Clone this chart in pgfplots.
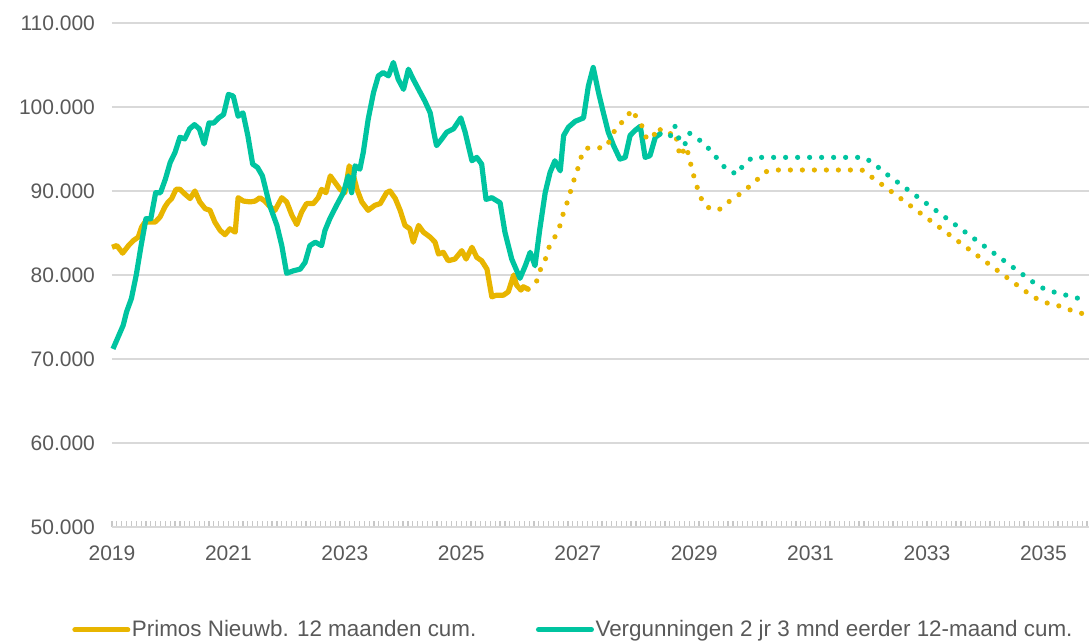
\documentclass[border=0pt]{standalone}
\usepackage{fontspec}
\setmainfont{Liberation Sans}
\usepackage{pgfplots}
\pgfplotsset{compat=1.18}

\definecolor{primos}{RGB}{232,181,0}
\definecolor{vergun}{RGB}{0,196,160}
\definecolor{txt}{RGB}{89,89,89}
\definecolor{grd}{RGB}{217,217,217}
\definecolor{tck}{RGB}{200,200,200}

\begin{document}
\begin{tikzpicture}
\begin{axis}[
  at={(0,0)}, anchor=south west,
  width=488.5pt, height=252pt, scale only axis,
  xmin=0, xmax=201.4,
  ymin=50, ymax=110,
  xtick={0,24,...,192},
  xticklabels={2019,2021,2023,2025,2027,2029,2031,2033,2035},
  minor xtick={0,1,...,201},
  ytick={50,60,...,110},
  yticklabels={50.000,60.000,70.000,80.000,90.000,100.000,110.000},
  ymajorgrids,
  grid style={draw=grd, line width=1pt},
  axis x line*=bottom, axis y line*=left,
  x axis line style={draw=grd, line width=1pt},
  y axis line style={draw=none},
  ytick style={draw=none},
  xtick style={draw=tck, line width=0.6pt},
  minor x tick style={draw=tck, line width=0.6pt},
  tick align=inside,
  major tick length=3pt, minor tick length=3pt,
  ticklabel style={font=\fontsize{10.5}{12}\selectfont, text=txt},
  yticklabel style={xshift=-5pt},
  xticklabel style={yshift=-6pt},
  clip=false,
  legend columns=2,
  legend style={draw=none, fill=none, inner sep=0pt,
    at={(axis description cs:-0.041,-0.204)}, anchor=west,
    font=\fontsize{11.2}{13}\selectfont, text=txt,
    nodes={inner sep=0.8pt},
    /tikz/every even column/.append style={column sep=29pt}},
  legend image code/.code={\draw[#1, line width=2.5pt, line cap=round] (0pt,0pt) -- (26.5pt,0pt);},
]
% Primos, gerealiseerd
\addplot[primos, line width=2.6pt, line join=round] coordinates {
(0,83.3)(1,83.5)(2.2,82.6)(3.4,83.5)(4.4,84.1)(5.4,84.5)(6.1,85.7)(6.8,86.3)(8.9,86.3)(9.9,86.9)
(10.9,88.1)(11.6,88.7)(12.3,89.1)(13.2,90.2)(14,90.2)(15.1,89.6)(16.1,89.1)(17.1,90.0)(18.1,88.7)
(19.2,87.9)(20.2,87.7)(21.2,86.3)(22.3,85.3)(23.3,84.8)(24.3,85.5)(25.4,85.1)(26,89.2)(27.1,88.8)
(28.5,88.7)(29.5,88.8)(30.5,89.2)(31.5,88.8)(32.6,88.1)(33.6,87.7)(35,89.2)(36,88.7)(37.1,87.1)
(38.1,86.0)(39.1,87.5)(40.1,88.5)(41.5,88.5)(42.5,89.2)(43.2,90.2)(44.1,89.8)(45,91.8)(46,91.0)
(47,90.2)(48,89.8)(48.9,93.0)(49.8,91.8)(50.5,90.2)(51.5,88.7)(52.8,87.7)(54.2,88.3)(55.3,88.5)
(56.6,89.8)(57.3,90.0)(58.4,89.1)(59.4,87.7)(60.4,85.9)(61.4,85.5)(62.1,83.9)(63.2,85.9)(64.2,85.1)
(65.6,84.5)(66.6,83.9)(67.3,82.5)(68.3,82.7)(69.3,81.7)(70.7,81.9)(72.1,82.9)(73,81.9)(74.2,83.3)
(75.2,82.1)(76.2,81.7)(77.3,80.7)(78.3,77.4)(79.3,77.6)(80.7,77.6)(81.7,78.0)(82.8,80.0)(83.4,78.8)
(84.3,78.2)(84.8,78.6)(85.8,78.3)
};
\addlegendentry{Primos Nieuwb. 12 maanden cum.}
% Vergunningen, gerealiseerd
\addplot[vergun, line width=2.6pt, line join=round] coordinates {
(0.2,71.2)(2.3,74.0)(3,75.6)(4,77.2)(5,80.0)(6,83.5)(7,86.7)(8,86.7)(9,89.8)(10,89.8)(11,91.4)
(12,93.4)(13,94.6)(14,96.4)(15,96.2)(16,97.4)(17,97.9)(18,97.4)(19,95.6)(20,98.1)(21,98.1)(22,98.7)
(23,99.1)(24,101.5)(25,101.3)(26,98.9)(27,99.3)(28,96.6)(29,93.2)(30,92.8)(31,91.8)(32.5,88.3)
(34,85.9)(35,83.5)(36,80.2)(37.4,80.5)(38.8,80.7)(39.8,81.5)(40.8,83.5)(41.9,83.9)(43.2,83.5)
(43.9,85.3)(44.9,86.7)(46.3,88.3)(47.7,89.8)(48.7,91.8)(49.4,89.8)(50.1,93.0)(51.1,92.6)(51.8,94.6)
(52.8,98.5)(53.9,101.7)(54.9,103.7)(55.9,104.1)(57,103.7)(58,105.3)(59,103.3)(60.1,102.1)(61.1,104.5)
(62.1,103.3)(63.2,102.1)(64.5,100.7)(65.6,99.3)(66.2,97.4)(66.9,95.4)(68,96.2)(69,97.0)(70.4,97.4)
(71.9,98.7)(72.8,97.0)(74.2,93.6)(75.2,94.0)(76.2,93.2)(77.1,89.0)(78.3,89.2)(80,88.6)(81,85.1)
(82.4,81.9)(84.1,79.6)(85.2,81.1)(86.2,82.7)(87.2,81.1)(88.2,85.5)(89.3,89.8)(90.3,92.2)(91.3,93.6)
(92.4,92.4)(93.1,96.6)(94.1,97.6)(95.5,98.3)(97.2,98.7)(98.2,102.5)(99.2,104.7)(100.3,101.7)
(101.3,99.3)(102.3,97.0)(103.4,95.4)(104.7,93.8)(105.8,94.0)(106.8,96.6)(107.8,97.2)(108.9,97.7)
(109.9,94.0)(110.9,94.2)(112,96.4)(113,96.8)
};
\addlegendentry{Vergunningen 2 jr 3 mnd eerder 12-maand cum.}
% Primos, prognose
\addplot[primos, forget plot, line width=2.6pt, line cap=round, dash pattern=on 0pt off 6pt] coordinates {
(85.8,78.3)(87.5,79.2)(88.2,80.5)(89.3,81.8)(90,83.2)(91.1,84.3)(92.2,85.6)(92.9,87.1)(93.7,88.4)
(94.4,89.7)(95.1,91.1)(95.9,92.4)(96.6,93.9)(97.7,95.1)(99.6,95.1)(101.8,95.2)(103,96.4)(104,97.7)
(105.9,98.5)(107.1,99.7)(108.2,98.7)(109.5,97.5)(110.2,96.2)(111.6,96.4)(112.3,97.6)(114.4,96.7)
(116.1,97.0)(116.6,95.5)(117.1,94.1)(117.8,94.8)(118.4,95.3)(119,93.9)(119.6,92.5)(120.2,91.2)
(121,89.8)(121.9,88.5)(123.5,87.8)(125.2,87.8)(127.1,88.7)(129.1,89.5)(131.1,90.4)(132.9,91.3)
(134.8,92.3)(137,92.5)(154.6,92.5)(156.5,91.7)(158.4,90.9)(188.2,78.1)(190.2,77.3)(192.5,76.7)
(194.8,76.4)(197.2,75.9)(199.4,75.5)(201.4,75.2)
};
% Vergunningen, prognose
\addplot[vergun, forget plot, line width=2.6pt, line cap=round, dash pattern=on 0pt off 6pt] coordinates {
(113,96.8)(115,96.4)(116,97.8)(117,96.0)(118,95.4)(119,96.9)(120,96.5)(122,95.7)(124,94.4)(126,93.0)
(127,92.4)(129,92.0)(130,93.0)(132,94.0)(155,94.0)(157,93.3)(159,92.3)(190,79.1)(192,78.4)(194,78.0)
(196,77.7)(198,77.4)(200,77.1)(201.4,76.9)
};
\end{axis}
\pgfresetboundingbox
\path (-56pt,-57pt) rectangle (488.5pt,263.5pt);
\end{tikzpicture}
\end{document}
